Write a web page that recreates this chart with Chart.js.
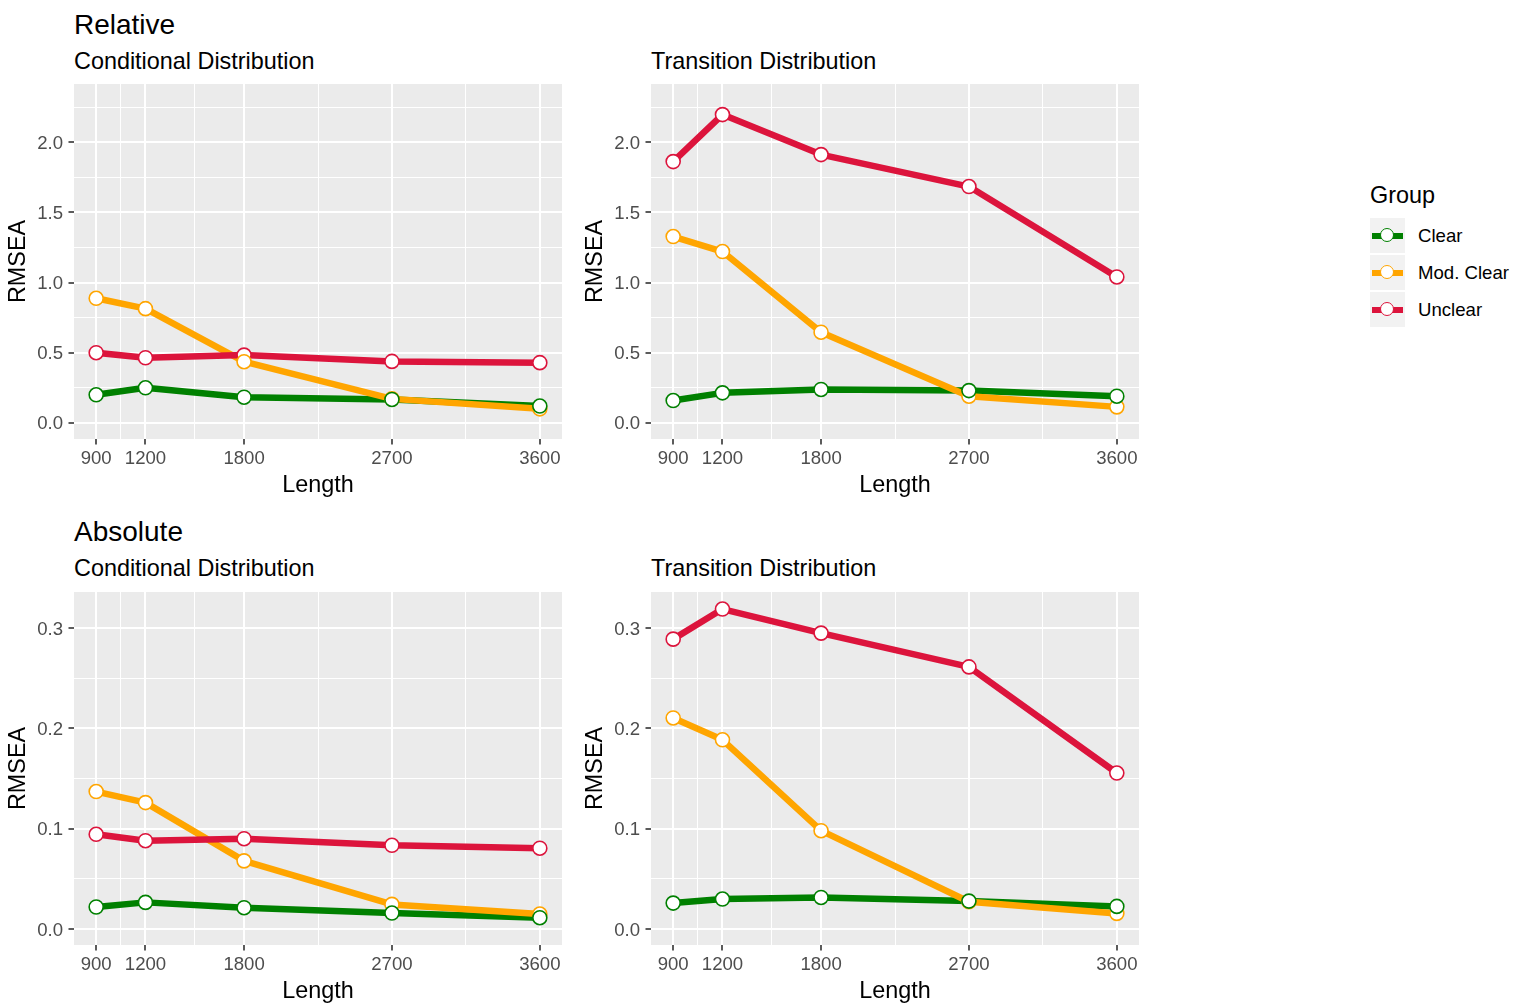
<!DOCTYPE html>
<html>
<head>
<meta charset="utf-8">
<title>RMSEA by Length</title>
<script src="https://cdn.jsdelivr.net/npm/chart.js@4/dist/chart.umd.min.js"></script>
<style>
  html, body { margin: 0; padding: 0; background: #ffffff; }
  body {
    width: 1522px; height: 1003px; position: relative; overflow: hidden;
    font-family: 'Liberation Sans', Arial, Helvetica, sans-serif;
  }
  .txt { position: absolute; white-space: nowrap; color: #000; }
  .title { font-size: 28px; line-height: 28px; }
  .sub { font-size: 23.4px; line-height: 23.4px; }
  .panel { position: absolute; }
  .key { position: absolute; width: 35px; height: 35px; background: #F2F2F2; }
  .key .bar { position: absolute; left: 2px; top: 14.5px; width: 31px; height: 6px; }
  .key .dot { position: absolute; left: 10px; top: 10px; width: 12px; height: 12px;
              border-radius: 50%; background: #fff; border-style: solid; border-width: 1.6px; }
  .keylab { position: absolute; font-size: 18.6px; line-height: 35px; height: 35px; color: #000; white-space: nowrap; }
</style>
</head>
<body>

<div class="txt title" style="left:74px; top:10.5px;">Relative</div>
<div class="txt sub" style="left:74px; top:49.8px;">Conditional Distribution</div>
<div class="txt sub" style="left:651px; top:49.8px;">Transition Distribution</div>

<div class="txt title" style="left:74px; top:517.5px;">Absolute</div>
<div class="txt sub" style="left:74px; top:557px;">Conditional Distribution</div>
<div class="txt sub" style="left:651px; top:557px;">Transition Distribution</div>

<div class="panel" id="wrapRelCond"><canvas id="relCond"></canvas></div>
<div class="panel" id="wrapRelTrans"><canvas id="relTrans"></canvas></div>
<div class="panel" id="wrapAbsCond"><canvas id="absCond"></canvas></div>
<div class="panel" id="wrapAbsTrans"><canvas id="absTrans"></canvas></div>

<div id="legend"></div>

<script>
// ---- data ----
const lengths = [900, 1200, 1800, 2700, 3600];
const lengthMinor = [1050, 1500, 2250, 3150];

const groups = ['Clear', 'Mod. Clear', 'Unclear'];
const groupColors = ['#008000', '#FFA500', '#DC143C'];

// Relative RMSEA
const relCondClear   = [0.200, 0.250, 0.183, 0.167, 0.120];
const relCondMod     = [0.888, 0.814, 0.436, 0.171, 0.100];
const relCondUnclear = [0.500, 0.464, 0.483, 0.438, 0.429];

const relTransClear   = [0.159, 0.214, 0.238, 0.230, 0.190];
const relTransMod     = [1.328, 1.221, 0.646, 0.190, 0.114];
const relTransUnclear = [1.862, 2.197, 1.912, 1.684, 1.040];

// Absolute RMSEA
const absCondClear   = [0.0219, 0.0265, 0.0212, 0.0159, 0.0112];
const absCondMod     = [0.1370, 0.1260, 0.0679, 0.0245, 0.0149];
const absCondUnclear = [0.0944, 0.0880, 0.0900, 0.0834, 0.0805];

const absTransClear   = [0.0258, 0.0298, 0.0314, 0.0278, 0.0225];
const absTransMod     = [0.2104, 0.1886, 0.0980, 0.0271, 0.0155];
const absTransUnclear = [0.2890, 0.3190, 0.2950, 0.2613, 0.1555];

// axis breaks and limits
const relTicks = [0, 0.5, 1.0, 1.5, 2.0];
const relMinor = [0.25, 0.75, 1.25, 1.75, 2.25];
const absTicks = [0, 0.1, 0.2, 0.3];
const absMinor = [0.05, 0.15, 0.25];

const lengthRange = [765, 3735];
const relRange = [-0.115, 2.415];
const absRange = [-0.016, 0.336];

// ---- layout ----
const YAXIS_W = 74, XAXIS_H = 61;
const PAD = { left: 0, top: 10, right: 13, bottom: 4 };

function tickList(major, minor) {
  return major.map(v => ({ value: v, minor: false }))
    .concat(minor.map(v => ({ value: v, minor: true })))
    .sort((a, b) => a.value - b.value);
}

// grey panel background behind the grid
const panelBackground = {
  id: 'panelBackground',
  beforeDraw(chart) {
    const a = chart.chartArea;
    const ctx = chart.ctx;
    ctx.save();
    ctx.fillStyle = '#EBEBEB';
    ctx.fillRect(a.left, a.top, a.right - a.left, a.bottom - a.top);
    ctx.restore();
  }
};

function axisConfig(list, range, title, fmt, isX) {
  const isMinor = i => !!(list[i] && list[i].minor);
  return {
    type: 'linear',
    min: range[0],
    max: range[1],
    afterBuildTicks: s => { s.ticks = list.map(t => ({ value: t.value })); },
    afterFit: s => {
      if (isX) s.height = XAXIS_H; else s.width = YAXIS_W;
      s.paddingLeft = 0; s.paddingRight = 0; s.paddingTop = 0; s.paddingBottom = 0;
    },
    ticks: {
      autoSkip: false,
      maxRotation: 0,
      minRotation: 0,
      padding: isX ? 3.5 : 5.5,
      labelOffset: isX ? 0 : 1.5,
      color: '#4D4D4D',
      font: { size: 18.6, lineHeight: 1.2 },
      callback: (v, i) => isMinor(i) ? '' : fmt(v)
    },
    grid: {
      color: '#FFFFFF',
      lineWidth: c => isMinor(c.index) ? 1 : 2,
      drawOnChartArea: true,
      drawTicks: true,
      tickLength: 5.5,
      tickWidth: 1.6,
      tickColor: c => isMinor(c.index) ? 'rgba(0,0,0,0)' : '#333333'
    },
    border: { display: false },
    title: {
      display: true,
      text: title,
      color: '#000000',
      font: { size: 23.4, lineHeight: 1.2 },
      padding: isX ? { top: 0, bottom: 0 } : { top: 4.5, bottom: 0 }
    }
  };
}

function panel(id, rect, series, yMajor, yMinor, yRange) {
  const wrap = document.getElementById('wrap' + id.charAt(0).toUpperCase() + id.slice(1));
  const canvas = document.getElementById(id);
  const w = (rect.r - rect.l) + YAXIS_W + PAD.left + PAD.right;
  const h = (rect.b - rect.t) + XAXIS_H + PAD.top + PAD.bottom;
  wrap.style.left = (rect.l - YAXIS_W - PAD.left) + 'px';
  wrap.style.top = (rect.t - PAD.top) + 'px';
  wrap.style.width = w + 'px';
  wrap.style.height = h + 'px';
  canvas.width = w;
  canvas.height = h;
  canvas.style.width = w + 'px';
  canvas.style.height = h + 'px';

  const datasets = [];
  // connecting lines, Unclear on top of Mod. Clear on top of Clear
  series.forEach((vals, g) => {
    datasets.push({
      label: groups[g] + ' line',
      data: lengths.map((x, i) => ({ x: x, y: vals[i] })),
      borderColor: groupColors[g],
      borderWidth: 6.5,
      borderJoinStyle: 'round',
      borderCapStyle: 'butt',
      pointRadius: 0,
      fill: false,
      tension: 0,
      order: 6 - g
    });
  });
  // open circle markers above all lines, Clear drawn last
  series.forEach((vals, g) => {
    datasets.push({
      label: groups[g],
      data: lengths.map((x, i) => ({ x: x, y: vals[i] })),
      showLine: false,
      pointStyle: 'circle',
      pointRadius: 7,
      pointBackgroundColor: '#FFFFFF',
      pointBorderColor: groupColors[g],
      pointBorderWidth: 1.6,
      order: 1 + g
    });
  });

  const xList = tickList(lengths, lengthMinor);
  const yList = tickList(yMajor, yMinor);

  return new Chart(canvas, {
    type: 'line',
    data: { datasets: datasets },
    options: {
      responsive: false,
      maintainAspectRatio: false,
      animation: false,
      devicePixelRatio: 1,
      events: [],
      layout: { padding: PAD },
      plugins: {
        legend: { display: false },
        tooltip: { enabled: false },
        title: { display: false }
      },
      scales: {
        x: Object.assign(axisConfig(xList, lengthRange, 'Length', v => String(v), true), { position: 'bottom' }),
        y: Object.assign(axisConfig(yList, yRange, 'RMSEA', v => v.toFixed(1), false), { position: 'left' })
      }
    },
    plugins: [panelBackground]
  });
}

Chart.defaults.font.family = "'Liberation Sans', Arial, Helvetica, sans-serif";

panel('relCond',  { l: 74,  t: 84,  r: 562,  b: 439 }, [relCondClear, relCondMod, relCondUnclear], relTicks, relMinor, relRange);
panel('relTrans', { l: 651, t: 84,  r: 1139, b: 439 }, [relTransClear, relTransMod, relTransUnclear], relTicks, relMinor, relRange);
panel('absCond',  { l: 74,  t: 592, r: 562,  b: 945 }, [absCondClear, absCondMod, absCondUnclear], absTicks, absMinor, absRange);
panel('absTrans', { l: 651, t: 592, r: 1139, b: 945 }, [absTransClear, absTransMod, absTransUnclear], absTicks, absMinor, absRange);

// ---- legend ----
(function buildLegend() {
  const legend = document.getElementById('legend');
  const head = document.createElement('div');
  head.className = 'txt sub';
  head.style.left = '1370px';
  head.style.top = '183.5px';
  head.textContent = 'Group';
  legend.appendChild(head);
  groups.forEach((name, g) => {
    const top = 218 + 37 * g;
    const key = document.createElement('div');
    key.className = 'key';
    key.style.left = '1370px';
    key.style.top = top + 'px';
    const bar = document.createElement('div');
    bar.className = 'bar';
    bar.style.background = groupColors[g];
    const dot = document.createElement('div');
    dot.className = 'dot';
    dot.style.borderColor = groupColors[g];
    key.appendChild(bar);
    key.appendChild(dot);
    legend.appendChild(key);
    const lab = document.createElement('div');
    lab.className = 'keylab';
    lab.style.left = '1418px';
    lab.style.top = top + 'px';
    lab.textContent = name;
    legend.appendChild(lab);
  });
})();
</script>
</body>
</html>
